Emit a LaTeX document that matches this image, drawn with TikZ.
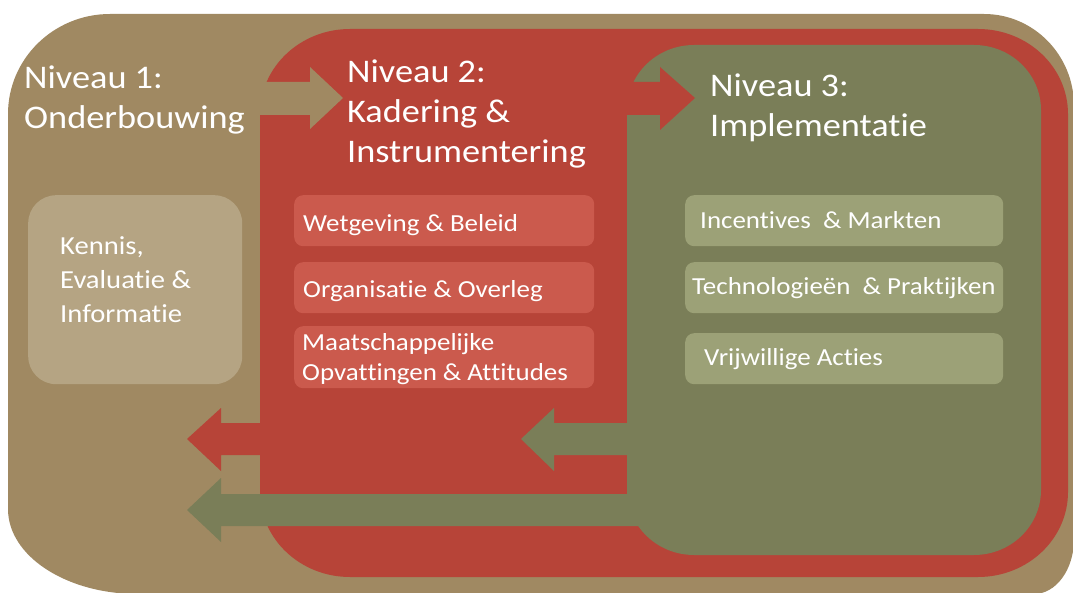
\documentclass[tikz,border=0pt]{standalone}
\usepackage{fontspec}
\setmainfont{Carlito}[FakeStretch=1.1, RawFeature={-liga;-clig;-calt;-dlig;-hlig;-rlig}]
\newcommand\nl{\kern0pt }
\definecolor{brownc}{RGB}{160,137,98}
\definecolor{redc}{RGB}{183,68,56}
\definecolor{greenc}{RGB}{122,126,88}
\definecolor{tanc}{RGB}{181,164,131}
\definecolor{lightred}{RGB}{203,90,77}
\definecolor{lightgreen}{RGB}{156,161,119}
\newcommand\erect[7]{%
  \fill[#1] (#2+#6,#3) -- (#4-#6,#3)
    .. controls (#4-0.4477*#6,#3) and (#4,#3+0.4477*#7) .. (#4,#3+#7)
    -- (#4,#5-#7)
    .. controls (#4,#5-0.4477*#7) and (#4-0.4477*#6,#5) .. (#4-#6,#5)
    -- (#2+#6,#5)
    .. controls (#2+0.4477*#6,#5) and (#2,#5-0.4477*#7) .. (#2,#5-#7)
    -- (#2,#3+#7)
    .. controls (#2,#3+0.4477*#7) and (#2+0.4477*#6,#3) .. (#2+#6,#3) -- cycle;}
\begin{document}
\begin{tikzpicture}[x=1pt,y=-1pt,
  title/.style={text=white, font=\fontsize{33}{40}\selectfont, inner sep=0pt, anchor=base west},
  midtxt/.style={text=white, font=\fontsize{26}{34}\selectfont, inner sep=0pt, anchor=base west},
  smalltxt/.style={text=white, font=\fontsize{24.5}{29}\selectfont, inner sep=0pt, anchor=base west},
  tanbox/.style={fill=tanc, rounded corners=28pt, minimum width=214pt, minimum height=189pt, anchor=north west, inner sep=0pt},
  rbox/.style={fill=lightred, rounded corners=9pt, minimum width=300pt, anchor=north west, inner sep=0pt},
  gbox/.style={fill=lightgreen, rounded corners=9pt, minimum width=318pt, anchor=north west, inner sep=0pt}]
\useasboundingbox (0,0) rectangle (1073,593);
\fill[white] (0,0) rectangle (1073,593);
% outer level 1 region
\fill[brownc] (8+102,14) -- (1074-90,14)
  .. controls (1074-0.4477*90,14) and (1074,14+0.4477*92) .. (1074,14+92)
  -- (1074,594-55)
  .. controls (1074,594-0.4477*55) and (1074-0.4477*40,594) .. (1074-40,594)
  -- (8+130,594)
  .. controls (8+0.4477*130,594) and (8,594-0.4477*85) .. (8,594-85)
  -- (8,14+100)
  .. controls (8,14+0.4477*100) and (8+0.4477*102,14) .. (8+102,14) -- cycle;
% level 2 region
\erect{redc}{260}{29}{1068}{577}{90}{85}
% level 3 region
\erect{greenc}{627}{45}{1041}{555}{67}{65}
% coordinates for block arrows
\coordinate (a1s) at (252,98);
\coordinate (a1t) at (343,98);
\coordinate (a2s) at (618,98);
\coordinate (a2t) at (695,98);
\coordinate (a3s) at (266,439);
\coordinate (a3t) at (187,439);
\coordinate (a4s) at (640,439);
\coordinate (a4t) at (521,439);
\coordinate (a5s) at (660,510);
\coordinate (a5t) at (187,510);
% arrow level 1 -> level 2
\fill[brownc] (a1s) ++(0,-16) -- (310,82) -- (310,67) -- (a1t) -- (310,129) -- (310,115) -- ([yshift=-17pt]a1s) -- cycle;
% arrow level 2 -> level 3
\fill[redc] (a2s) ++(0,-16) -- (660,82) -- (660,67) -- (a2t) -- (660,130) -- (660,115) -- ([yshift=-17pt]a2s) -- cycle;
% arrow level 2 -> level 1
\fill[redc] (a3s) ++(0,-16) -- (221,423) -- (221,408) -- (a3t) -- (221,471) -- (221,455) -- ([yshift=-16pt]a3s) -- cycle;
% arrow level 3 -> level 2
\fill[greenc] (a4s) ++(0,-16) -- (554,423) -- (554,408) -- (a4t) -- (554,471) -- (554,455) -- ([yshift=-16pt]a4s) -- cycle;
% arrow level 3 -> level 1
\fill[greenc] (a5s) ++(0,-16) -- (221,494) -- (221,478) -- (a5t) -- (221,542) -- (221,526) -- ([yshift=-16pt]a5s) -- cycle;
% titles
\node[title] (t1) at (24,89) {\vtop{\hbox{Niveau 1:}\hbox{Onderbouwing}}};
\node[title] (t2) at (347,83) {\vtop{\hbox{Niveau 2:}\hbox{Kadering \&}\hbox{Instrumentering}}};
\node[title] (t3) at (710,97) {\vtop{\hbox{Niveau 3:}\hbox{Implementat\nl ie}}};
% level 1 box
\node[tanbox] (kbox) at (28,195) {};
\node[midtxt] (ktxt) at (60,255) {\vtop{\hbox{Kennis,}\hbox{Evaluat\nl ie \&}\hbox{Informat\nl ie}}};
% level 2 boxes
\node[rbox, minimum height=51pt] (r1) at (294,195) {};
\node[rbox, minimum height=51pt] (r2) at (294,262) {};
\node[rbox, minimum height=62pt] (r3) at (294,326) {};
\node[smalltxt] (r1t) at (303,232) {Wetgeving \& Beleid};
\node[smalltxt] (r2t) at (303,298) {Organisat\nl ie \& Overleg};
\node[smalltxt] (r3t) at (302,351) {\vtop{\hbox{Maatschappelijke}\hbox{Opvat\nl t\nl ingen \& At\nl t\nl it\nl udes}}};
% level 3 boxes
\node[gbox, minimum height=51pt] (g1) at (685,195) {};
\node[gbox, minimum height=51pt] (g2) at (685,262) {};
\node[gbox, minimum height=51pt] (g3) at (685,333) {};
\node[smalltxt] (g1t) at (700,229) {Incent\nl ives \ \& Markten};
\node[smalltxt] (g2t) at (692,295) {Technologieën \ \& Prakt\nl ijken};
\node[smalltxt] (g3t) at (704,365) {Vrijwillige Act\nl ies};
\end{tikzpicture}
\end{document}
